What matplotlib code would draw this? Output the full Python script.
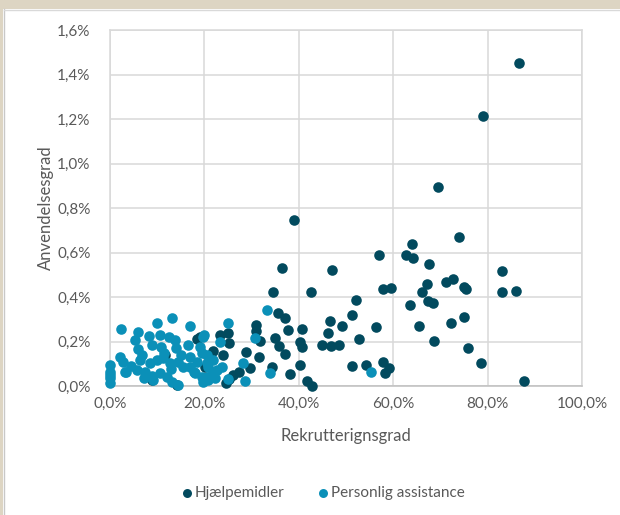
import matplotlib.pyplot as plt
from matplotlib.patches import Rectangle
from matplotlib.ticker import FuncFormatter

plt.rcParams["font.family"] = ["Lato", "DejaVu Sans"]

# Hjælpemidler (x: rekrutteringsgrad %, y: anvendelsesgrad %)
help_x = [86.7, 79.0, 69.4, 73.9, 67.5, 67.2, 71.2, 72.6, 75.1, 75.5, 83.1, 83.1,
          86.0, 68.5, 67.4, 72.2, 75.1, 68.7, 75.8, 78.7, 87.7,
          64.0, 56.9, 62.7, 64.1, 47.0, 42.6, 57.9, 59.5, 66.2, 52.2, 63.6, 51.2,
          46.7, 49.2, 40.7, 56.4, 65.5, 46.1, 40.3, 40.6, 44.9, 46.8, 48.6, 52.8,
          40.3, 51.2, 54.2, 57.9, 59.2, 58.3, 41.7, 42.9,
          39.0, 36.4, 34.6, 35.6, 37.1, 37.8, 35.0, 35.9, 37.1, 34.3, 38.1,
          31.0, 31.0, 23.3, 25.1, 25.3, 31.8, 21.8, 24.0, 28.8, 31.6, 29.7, 27.4,
          26.1, 25.2, 18.5, 11.7, 8.8, 14.3, 20.1, 19.1, 24.6]
help_y = [1.452, 1.213, 0.894, 0.671, 0.550, 0.457, 0.467, 0.482, 0.446, 0.435, 0.517, 0.421,
          0.428, 0.374, 0.381, 0.285, 0.311, 0.204, 0.169, 0.102, 0.021,
          0.638, 0.590, 0.590, 0.575, 0.521, 0.421, 0.435, 0.440, 0.421, 0.387, 0.365, 0.319,
          0.294, 0.270, 0.258, 0.265, 0.270, 0.236, 0.199, 0.174, 0.184, 0.178, 0.183, 0.210,
          0.094, 0.090, 0.096, 0.109, 0.082, 0.060, 0.021, 0.001,
          0.746, 0.529, 0.421, 0.327, 0.306, 0.252, 0.214, 0.181, 0.144, 0.087, 0.055,
          0.276, 0.245, 0.229, 0.236, 0.192, 0.202, 0.159, 0.139, 0.151, 0.129, 0.080, 0.064,
          0.049, 0.031, 0.210, 0.139, 0.027, 0.003, 0.087, 0.222, 0.012]

# Personlig assistance
pa_x = [2.3, 10.0, 13.1, 16.9, 5.9, 5.3, 8.3, 10.6, 12.4, 13.8, 14.0, 8.8, 10.7,
        6.0, 16.6, 19.8, 19.1, 19.4, 2.1, 2.7, 3.2, 0.0, 0.0, 0.0, 0.0, 0.0,
        33.3, 25.1, 23.4, 30.8, 28.2, 23.7, 24.9, 28.6, 33.9, 21.2, 20.8, 21.9,
        55.3, 20.0,
        6.4, 5.7, 7.4, 8.5, 9.9, 11.3, 12.7, 14.5, 15.5, 16.9, 18.4, 20.5, 21.9,
        22.6, 7.1, 8.8, 10.6, 12.0, 13.1, 14.5, 9.2, 19.4, 20.8, 19.8, 3.4,
        16.9, 17.7, 20.5, 20.5, 22.2, 4.5, 11.5, 15.0, 18.0, 13.0, 6.8]
pa_y = [0.258, 0.285, 0.304, 0.271, 0.243, 0.207, 0.225, 0.229, 0.222, 0.207, 0.169, 0.184, 0.177,
        0.165, 0.184, 0.222, 0.177, 0.147, 0.132, 0.109, 0.064, 0.094, 0.064, 0.034, 0.012, 0.050,
        0.342, 0.285, 0.196, 0.217, 0.102, 0.087, 0.031, 0.022, 0.060, 0.117, 0.087, 0.064,
        0.062, 0.229,
        0.117, 0.072, 0.064, 0.102, 0.117, 0.124, 0.102, 0.109, 0.087, 0.087, 0.109, 0.102, 0.117,
        0.072, 0.034, 0.045, 0.057, 0.042, 0.019, 0.005, 0.027, 0.042, 0.027, 0.019, 0.064,
        0.132, 0.064, 0.139, 0.042, 0.034, 0.090, 0.150, 0.140, 0.060, 0.075, 0.140]

x_ticks = [0, 20, 40, 60, 80, 100]
y_ticks = [0.0, 0.2, 0.4, 0.6, 0.8, 1.0, 1.2, 1.4, 1.6]

dark = "#024a5e"
light = "#0b90b8"
grey_text = "#595959"

fig = plt.figure(figsize=(6.2, 5.15), dpi=100)
fig.patch.set_facecolor("white")
# screenshot frame: beige strip on top and at the left edge
fig.patches.append(Rectangle((0, 1 - 9 / 515), 1, 9 / 515, transform=fig.transFigure,
                             facecolor="#ddd5c3", edgecolor="none"))
fig.patches.append(Rectangle((0, 0), 3 / 620, 1, transform=fig.transFigure,
                             facecolor="#ddd5c3", edgecolor="none"))
fig.lines.append(plt.Line2D([3.5 / 620, 3.5 / 620], [0, 1 - 9 / 515], transform=fig.transFigure,
                            color="#c8c8c8", lw=1))
fig.lines.append(plt.Line2D([3.5 / 620, 1], [1 - 9.5 / 515, 1 - 9.5 / 515], transform=fig.transFigure,
                            color="#d9d9d9", lw=1))

ax = fig.add_axes([110 / 620, 1 - 386 / 515, 472 / 620, 356 / 515])
ax.scatter(help_x, help_y, s=58, color=dark, linewidths=0, label="Hjælpemidler",
           zorder=3, clip_on=False)
ax.scatter(pa_x, pa_y, s=58, color=light, linewidths=0, label="Personlig assistance",
           zorder=4, clip_on=False)

ax.set_xlim(0, 100)
ax.set_ylim(0, 1.6)
ax.set_xticks(x_ticks)
ax.set_yticks(y_ticks)
ax.xaxis.set_major_formatter(FuncFormatter(lambda v, p: f"{v:.1f}%".replace(".", ",")))
ax.yaxis.set_major_formatter(FuncFormatter(lambda v, p: f"{v:.1f}%".replace(".", ",")))
ax.grid(True, color="#d9d9d9", lw=1.1, zorder=0)
ax.set_axisbelow(True)
for side in ["left", "top", "right"]:
    ax.spines[side].set_color("#d9d9d9")
    ax.spines[side].set_linewidth(1.1)
ax.spines["bottom"].set_color("#bfbfbf")
ax.spines["bottom"].set_linewidth(1.1)
ax.tick_params(length=0, labelsize=11, colors=grey_text, pad=8)
ax.tick_params(axis="y", pad=14)

ax.set_xlabel("Rekrutterignsgrad", fontsize=12, color=grey_text, labelpad=12)
ax.set_ylabel("Anvendelsesgrad", fontsize=12, color=grey_text, labelpad=2)

leg = fig.legend(loc="center", bbox_to_anchor=(322 / 620, 1 - 493 / 515), ncol=2,
                 frameon=False, fontsize=11, handletextpad=0.05, columnspacing=2.0,
                 markerscale=0.85, handlelength=1.0)
for t in leg.get_texts():
    t.set_color(grey_text)

fig.savefig("out.png", dpi=100)
